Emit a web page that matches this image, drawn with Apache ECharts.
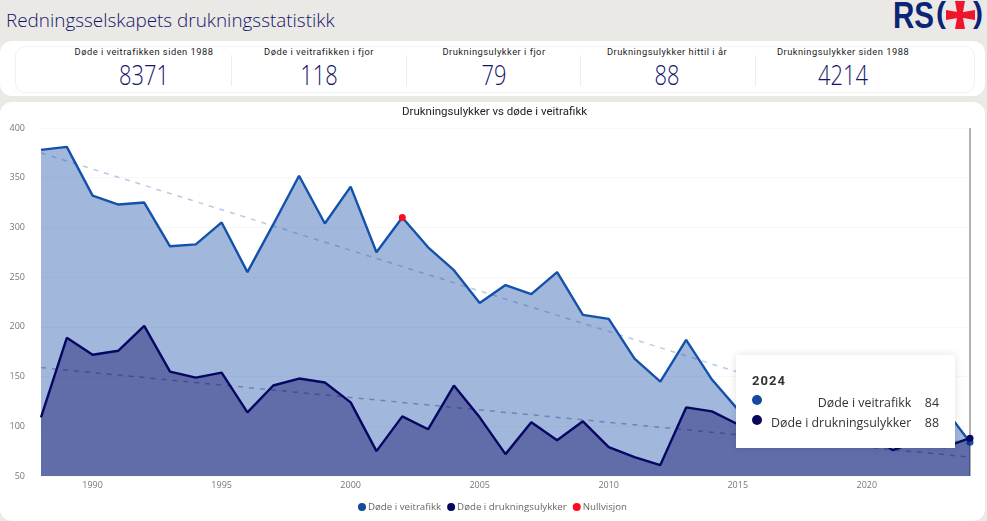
<!DOCTYPE html>
<html>
<head>
<meta charset="utf-8">
<script src="https://cdn.jsdelivr.net/npm/echarts@6/dist/echarts.min.js"></script>
<style>
    html, body { margin: 0; width: 987px; height: 521px; overflow: hidden; background: #eaE9e6; }
    #title { position: absolute; left: 6px; top: 7px; font: 300 18.9px "Open Sans"; color: #14146a; white-space: nowrap; }
    #cards { position: absolute; left: 0; top: 41px; width: 985px; height: 55px; background: #fff; border-radius: 12px; }
    #cards .inner { position: absolute; left: 15px; top: 5px; width: 958px; height: 45px; border: 1px solid #f2f2f2; border-radius: 10px; }
    .kpi { position: absolute; top: 41px; width: 170px; margin-left: -85px; text-align: center; }
    .kpi .label { position: absolute; top: 5px; width: 100%; font: 9.3px Roboto; letter-spacing: .5px; color: #222; white-space: nowrap; }
    .kpi .value { position: absolute; top: 15px; width: 100%; font: 300 27px "Open Sans"; color: #14146a; transform: scaleX(.81); }
    .sep { position: absolute; top: 55px; width: 1px; height: 31px; background: #eee; }
    #logo { position: absolute; left: 0; top: 0; }
    #logo span { position: absolute; font: bold 36px/36px "Liberation Sans"; color: #0b2478; white-space: nowrap; transform-origin: left top; }
    #logo span.paren { font: bold 30px/30px "Liberation Sans"; top: -2px; }
    #logo i { position: absolute; background: #f0142d; }
    #main { position: absolute; left: 0; top: 102px; width: 985px; height: 419px; background: #fff; border-radius: 12px; overflow: hidden; }
</style>
</head>
<body>

<div id="title">Redningsselskapets drukningsstatistikk</div>
<div id="cards"><div class="inner"></div></div>
<div id="logo">
    <span style="left:893px;top:-2px;transform:scaleX(.82)">RS</span>
    <span class="paren" style="left:936px">(</span>
    <span class="paren" style="left:973px">)</span>
    <i style="left:955px;top:1px;width:10px;height:28px;clip-path:polygon(0 0,100% 0,75% 50%,100% 100%,0 100%,25% 50%)"></i>
    <i style="left:946px;top:10px;width:29px;height:10px;clip-path:polygon(0 0,50% 25%,100% 0,100% 100%,50% 75%,0 100%)"></i>
</div>
<div id="main"></div>

<script>
    var kpiLabels = ['Døde i veitrafikken siden 1988', 'Døde i veitrafikken i fjor', 'Drukningsulykker i fjor', 'Drukningsulykker hittil i år', 'Drukningsulykker siden 1988'];
    var kpiValues = ['8371', '118', '79', '88', '4214'];
    var kpiCenters = [144, 319, 494, 667, 843];
    var sepPositions = [231, 406, 580, 755];

    var years = ['1988', '1989', '1990', '1991', '1992', '1993', '1994', '1995', '1996', '1997', '1998', '1999',
        '2000', '2001', '2002', '2003', '2004', '2005', '2006', '2007', '2008', '2009', '2010', '2011',
        '2012', '2013', '2014', '2015', '2016', '2017', '2018', '2019', '2020', '2021', '2022', '2023', '2024'];
    var veitrafikk = [378, 381, 332, 323, 325, 281, 283, 305, 255, 303, 352, 304,
        341, 275, 310, 280, 257, 224, 242, 233, 255, 212, 208, 168,
        145, 187, 147, 117, 135, 106, 108, 108, 95, 80, 117, 118, 84];
    var drukning = [109, 189, 172, 176, 201, 155, 149, 154, 114, 141, 148, 144,
        124, 75, 110, 97, 141, 109, 72, 104, 86, 105, 79, 69,
        61, 119, 115, 102, 105, 92, 96, 88, 95, 76, 85, 79, 88];
    var nullvisjon = [['2002', 310]];
    var trendVeitrafikk = [['1988', 375], ['2024', 81]];
    var trendDrukning = [['1988', 159], ['2024', 69]];

    var blue = '#134a9c';
    var navy = '#06065a';

    // KPI-kort
    kpiLabels.forEach(function (label, i) {
        var el = document.createElement('div');
        el.className = 'kpi';
        el.style.left = kpiCenters[i] + 'px';
        el.innerHTML = '<div class="label">' + label + '</div><div class="value">' + kpiValues[i] + '</div>';
        document.body.appendChild(el);
    });
    sepPositions.forEach(function (x) {
        var el = document.createElement('div');
        el.className = 'sep';
        el.style.left = x + 'px';
        document.body.appendChild(el);
    });

    function lastDot(value, params) {
        return params.dataIndex === years.length - 1 ? 7 : 0;
    }

    function tipRow(color, name, value) {
        return '<tr><td style="padding:0;width:16px"><span style="display:block;width:10px;height:10px;border-radius:50%;margin-top:-6px;background:' + color + '"></span></td>' +
            '<td style="padding:0;text-align:right">' + name + '</td><td style="padding:0 0 0 13px;text-align:right">' + value + '</td></tr>';
    }

    var myChart = echarts.init(document.getElementById('main'));
    var option = {
        animation: false,
        title: {
            text: 'Drukningsulykker vs døde i veitrafikk',
            left: 397,
            top: -1,
            textStyle: { fontFamily: 'Roboto', fontSize: 11.5, fontWeight: 'normal', color: '#222' }
        },
        legend: {
            data: ['Døde i veitrafikk', 'Døde i drukningsulykker', 'Nullvisjon'],
            bottom: 4,
            left: 'center',
            icon: 'circle',
            itemWidth: 8,
            itemHeight: 8,
            itemGap: 6,
            textStyle: { fontFamily: 'Open Sans', fontSize: 9.7, color: '#666', padding: [0, 0, 0, -3] }
        },
        grid: { left: 41, right: 15, top: 26, bottom: 45 },
        tooltip: {
            trigger: 'axis',
            triggerOn: 'none',
            alwaysShowContent: true,
            transitionDuration: 0,
            position: [736, 253],
            padding: 0,
            borderWidth: 0,
            borderRadius: 0,
            backgroundColor: '#fff',
            extraCssText: 'box-shadow:0 0 8px rgba(0,0,0,.12);',
            axisPointer: { type: 'line', z: 1, lineStyle: { color: '#999', width: 1.5, type: 'solid' }, label: { show: false } },
            formatter: function () {
                var i = years.length - 1;
                return '<div style="width:219px;height:93px;box-sizing:border-box;padding:19px 16px 0 16px;font-family:\'Open Sans\';font-size:12.4px;color:#333">' +
                    '<div style="font:bold 13px Roboto;letter-spacing:1px;margin-bottom:5px;line-height:14px">' + years[i] + '</div>' +
                    '<table style="border-collapse:collapse;line-height:20px;width:100%">' +
                    tipRow(blue, 'Døde i veitrafikk', veitrafikk[i]) +
                    tipRow(navy, 'Døde i drukningsulykker', drukning[i]) +
                    '</table></div>';
            }
        },
        xAxis: {
            type: 'category',
            data: years,
            boundaryGap: false,
            axisLine: { show: false },
            axisTick: { show: false },
            axisLabel: {
                margin: 5,
                fontFamily: 'Open Sans',
                fontSize: 9,
                color: '#777',
                interval: function (index, value) { return Number(value) % 5 === 0; }
            }
        },
        yAxis: {
            type: 'value',
            min: 50,
            max: 400,
            interval: 50,
            axisLine: { show: false },
            axisTick: { show: false },
            axisLabel: { margin: 16, fontFamily: 'Open Sans', fontSize: 9, color: '#777' },
            splitLine: { lineStyle: { color: '#f7f7f7', width: 1 } }
        },
        series: [
            {
                name: 'Døde i veitrafikk',
                type: 'line',
                data: veitrafikk,
                color: blue,
                clip: false,
                symbol: 'circle',
                symbolSize: lastDot,
                emphasis: { scale: false },
                lineStyle: { color: blue, width: 2.4 },
                areaStyle: { color: '#124596', opacity: 0.4, origin: 'start' },
                z: 3
            },
            {
                name: 'Døde i drukningsulykker',
                type: 'line',
                data: drukning,
                color: navy,
                clip: false,
                symbol: 'circle',
                symbolSize: lastDot,
                emphasis: { scale: false },
                lineStyle: { color: navy, width: 2.4 },
                areaStyle: { color: navy, opacity: 0.41, origin: 'start' },
                z: 4
            },
            {
                name: 'Nullvisjon',
                type: 'line',
                data: nullvisjon,
                color: '#ff0a1e',
                symbol: 'circle',
                symbolSize: 7,
                showSymbol: true,
                emphasis: { scale: false },
                lineStyle: { width: 0 },
                z: 6
            },
            {
                name: 'Trend veitrafikk',
                type: 'line',
                data: trendVeitrafikk,
                symbol: 'none',
                lineStyle: { color: blue, opacity: 0.3, width: 1.5, type: [5, 6] },
                z: 5
            },
            {
                name: 'Trend drukning',
                type: 'line',
                data: trendDrukning,
                symbol: 'none',
                lineStyle: { color: navy, opacity: 0.3, width: 1.5, type: [5, 6] },
                z: 5
            }
        ]
    };
    myChart.setOption(option);
    myChart.dispatchAction({ type: 'showTip', seriesIndex: 0, dataIndex: years.length - 1 });
</script>
</body>
</html>
